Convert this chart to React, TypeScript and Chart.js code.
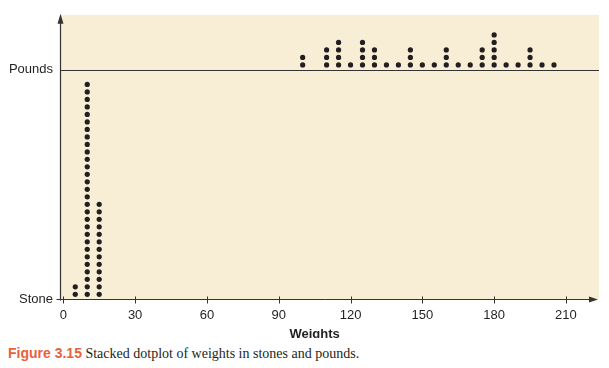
import React, { useEffect, useRef } from "react";
import { Chart, registerables } from "chart.js";

Chart.register(...registerables);

// ---- data ----
const poundValues = [100, 110, 115, 120, 125, 130, 135, 140, 145, 150, 155, 160, 165, 170, 175, 180, 185, 190, 195, 200, 205];
const poundCounts = [2, 3, 4, 1, 4, 3, 1, 1, 3, 1, 1, 3, 1, 1, 3, 5, 1, 1, 3, 1, 1];
const stoneValues = [5, 10, 15];
const stoneCounts = [2, 29, 13];
const xTickValues = [0, 30, 60, 90, 120, 150, 180, 210];
const yTickLabels = ["Stone", "Pounds"];
const xTitle = "Weights";
const captionLabel = "Figure 3.15";
const captionText = "Stacked dotplot of weights in stones and pounds.";

// stacking levels (in dot-heights)
const STONE_BASE = 0;
const POUNDS_BASE = 30.6;
const DOT_OFFSET = 0.62;

const CREAM = "#f7eed5";
const INK = "#231f20";
const FONT = "'Liberation Sans', Arial, Helvetica, sans-serif";

function stack(values: number[], counts: number[], base: number) {
  const pts: { x: number; y: number }[] = [];
  values.forEach((v, i) => {
    for (let k = 0; k < counts[i]; k++) pts.push({ x: v, y: base + DOT_OFFSET + k });
  });
  return pts;
}

const decorPlugin = {
  id: "decor",
  beforeDraw(chart: any) {
    const { ctx, chartArea } = chart;
    ctx.save();
    ctx.fillStyle = CREAM;
    ctx.fillRect(chartArea.left, chartArea.top, chartArea.right - chartArea.left, chartArea.bottom - chartArea.top);
    // pounds baseline
    const yS = chart.scales.y;
    const py = Math.round(yS.getPixelForValue(POUNDS_BASE)) + 0.5;
    ctx.strokeStyle = "#333";
    ctx.lineWidth = 1.2;
    ctx.beginPath();
    ctx.moveTo(chartArea.left, py);
    ctx.lineTo(chartArea.right, py);
    ctx.stroke();
    ctx.restore();
  },
  afterDraw(chart: any) {
    const { ctx, chartArea } = chart;
    const xS = chart.scales.x;
    const L = chartArea.left + 0.5;
    const B = chartArea.bottom + 0.5;
    ctx.save();
    ctx.strokeStyle = "#333";
    ctx.fillStyle = "#333";
    ctx.lineWidth = 1.2;
    // y axis
    ctx.beginPath();
    ctx.moveTo(L, B + 1);
    ctx.lineTo(L, chartArea.top + 4);
    ctx.stroke();
    ctx.beginPath();
    ctx.moveTo(L, chartArea.top - 1);
    ctx.lineTo(L - 3, chartArea.top + 9);
    ctx.lineTo(L + 3, chartArea.top + 9);
    ctx.closePath();
    ctx.fill();
    // x axis
    ctx.lineWidth = 1;
    ctx.beginPath();
    ctx.moveTo(L - 4, B);
    ctx.lineTo(chartArea.right - 4, B);
    ctx.stroke();
    ctx.beginPath();
    ctx.moveTo(chartArea.right - 1, B);
    ctx.lineTo(chartArea.right - 10, B - 3);
    ctx.lineTo(chartArea.right - 10, B + 3);
    ctx.closePath();
    ctx.fill();
    // x tick marks crossing the axis
    xTickValues.forEach((v) => {
      const px = Math.round(xS.getPixelForValue(v)) + 0.5;
      ctx.beginPath();
      ctx.moveTo(px, B - 3);
      ctx.lineTo(px, B + 4);
      ctx.stroke();
    });
    // axis title, centred on the labelled range
    const mid = (xTickValues[0] + xTickValues[xTickValues.length - 1]) / 2;
    ctx.fillStyle = INK;
    ctx.font = `bold 13px ${FONT}`;
    ctx.textAlign = "center";
    ctx.textBaseline = "middle";
    ctx.fillText(xTitle, xS.getPixelForValue(mid), 334);
    ctx.restore();
  },
};

export default function App() {
  const ref = useRef<HTMLCanvasElement | null>(null);

  useEffect(() => {
    if (!ref.current) return;
    const chart = new Chart(ref.current, {
      type: "scatter",
      data: {
        datasets: [
          { label: "Stone", data: stack(stoneValues, stoneCounts, STONE_BASE) },
          { label: "Pounds", data: stack(poundValues, poundCounts, POUNDS_BASE) },
        ],
      },
      options: {
        responsive: false,
        animation: false,
        devicePixelRatio: 1,
        layout: { padding: { top: 11, right: 10, left: 0, bottom: 0 } },
        elements: {
          point: { radius: 2.6, backgroundColor: INK, borderWidth: 0, hoverRadius: 2.6 },
        },
        plugins: { legend: { display: false }, tooltip: { enabled: false } },
        scales: {
          x: {
            type: "linear",
            min: -1.38,
            max: 223.8,
            grid: { display: false, drawTicks: false },
            border: { display: false },
            afterBuildTicks: (s: any) => {
              s.ticks = xTickValues.map((v) => ({ value: v }));
            },
            afterFit: (s: any) => {
              s.height = 39;
            },
            ticks: {
              autoSkip: false,
              maxRotation: 0,
              padding: 9,
              color: INK,
              font: { family: FONT, size: 13 },
              callback: (v: any) => String(v),
            },
          },
          y: {
            type: "linear",
            min: 0,
            max: 37.9,
            grid: { display: false, drawTicks: false },
            border: { display: false },
            afterBuildTicks: (s: any) => {
              s.ticks = [{ value: STONE_BASE }, { value: POUNDS_BASE }];
            },
            afterFit: (s: any) => {
              s.width = 60;
            },
            ticks: {
              autoSkip: false,
              padding: 7,
              color: INK,
              font: { family: FONT, size: 13 },
              callback: (_v: any, i: number) => yTickLabels[i],
            },
          },
        },
      },
      plugins: [decorPlugin],
    });
    return () => chart.destroy();
  }, []);

  return (
    <div style={{ position: "fixed", left: 0, top: 0, width: 609, height: 368, background: "#fff", overflow: "hidden" }}>
      <canvas ref={ref} width={609} height={338} style={{ position: "absolute", left: 0, top: 0, width: 609, height: 338, display: "block" }} />
      <div
        style={{
          position: "absolute",
          left: 8,
          top: 345,
          whiteSpace: "nowrap",
          fontSize: 14,
          lineHeight: "16px",
          color: INK,
          fontFamily: "'Liberation Serif', 'Times New Roman', serif",
        }}
      >
        <span style={{ fontFamily: FONT, fontWeight: "bold", color: "#e8613c" }}>{captionLabel}</span>{" "}
        <span>{captionText}</span>
      </div>
    </div>
  );
}
